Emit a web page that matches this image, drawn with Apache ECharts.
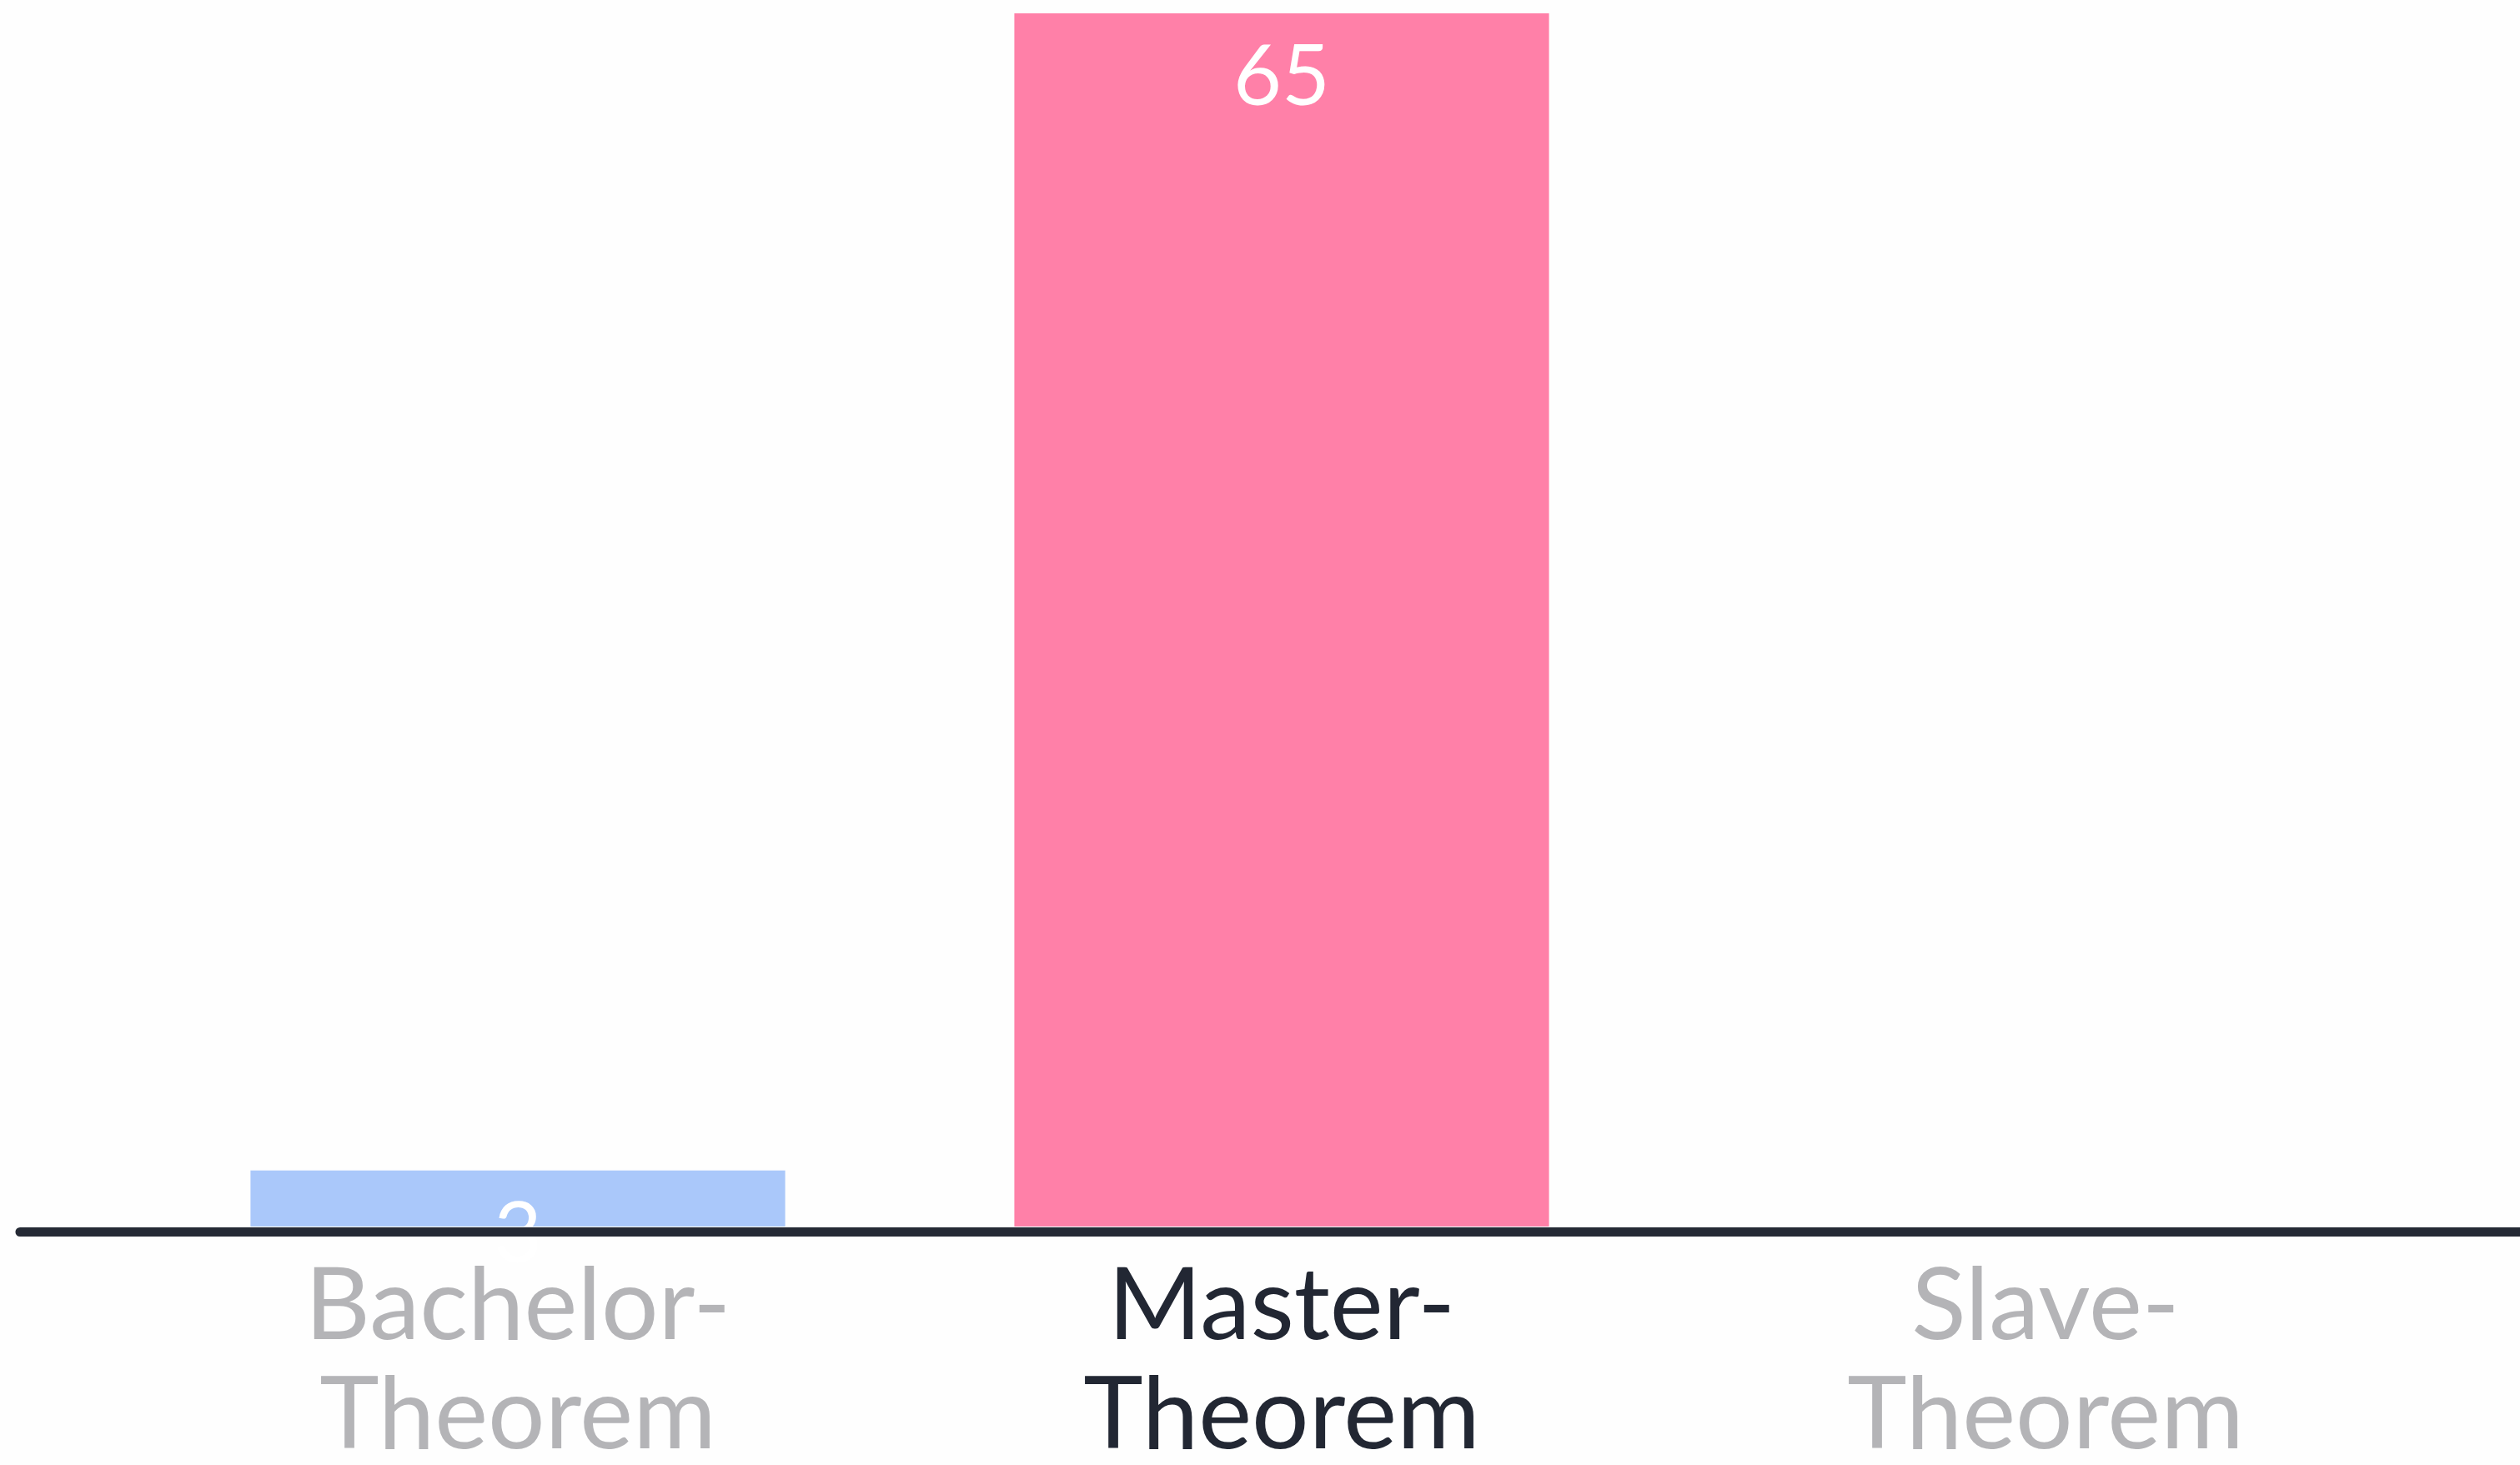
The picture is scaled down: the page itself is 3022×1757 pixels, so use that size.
<!DOCTYPE html>
<html>
<head>
<meta charset="utf-8">
<script src="https://cdn.jsdelivr.net/npm/echarts@6/dist/echarts.min.js"></script>
<style>
html,body{margin:0;padding:0;background:#fefefe;}
#chart{width:3022px;height:1757px;}
</style>
</head>
<body>
<div id="chart"></div>
<script>
const categories = ['Bachelor-\nTheorem', 'Master-\nTheorem', 'Slave-\nTheorem'];
const values = [3, 65, 0];
const barColors = ['#aac8fa', '#ff80a8', '#c8c8cc'];
const labelColors = ['#b4b4b7', '#222733', '#b4b4b7'];

const chart = echarts.init(document.getElementById('chart'), null, {renderer: 'canvas'});
chart.setOption({
  backgroundColor: '#fefefe',
  animation: false,
  grid: [
    {left: 163, right: 111, top: 16, bottom: 286, containLabel: false, outerBoundsMode: 'none'},
    {left: 24, right: 0, top: 16, bottom: 280, containLabel: false, outerBoundsMode: 'none'}
  ],
  xAxis: [
    {
      type: 'category',
      gridIndex: 0,
      data: categories,
      axisLine: {show: false},
      axisTick: {show: false},
      axisLabel: {
        margin: 30,
        fontFamily: 'Lato',
        fontSize: 121,
        lineHeight: 131,
        color: function (value, index) { return labelColors[index]; }
      }
    },
    {
      type: 'value',
      gridIndex: 1,
      min: 0, max: 1,
      z: 10,
      axisLine: {show: true, lineStyle: {color: '#252a35', width: 11}},
      axisTick: {show: false},
      axisLabel: {show: false},
      splitLine: {show: false}
    }
  ],
  yAxis: [
    {type: 'value', gridIndex: 0, min: 0, max: 65, show: false, splitLine: {show: false}},
    {type: 'value', gridIndex: 1, min: 0, max: 1, show: false, splitLine: {show: false}}
  ],
  series: [{
    type: 'bar',
    xAxisIndex: 0,
    yAxisIndex: 0,
    barWidth: '70%',
    data: values.map((v, i) => ({value: v, itemStyle: {color: barColors[i]}})),
    label: {
      show: true,
      position: 'insideTop',
      distance: 28,
      color: '#ffffff',
      fontFamily: 'Lato',
      fontSize: 100,
      formatter: p => (p.value ? String(p.value) : '')
    }
  }]
});
</script>
</body>
</html>
